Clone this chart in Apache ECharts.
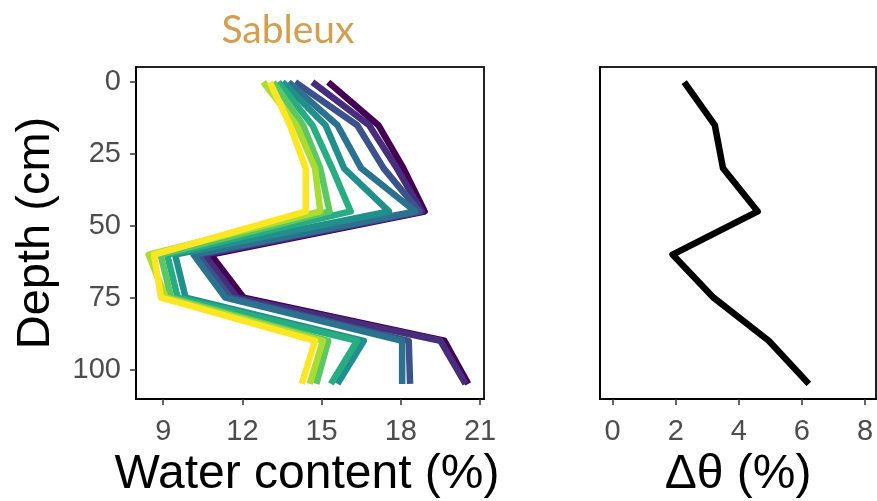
<!DOCTYPE html>
<html><head><meta charset="utf-8">
<script src="https://cdn.jsdelivr.net/npm/echarts@6/dist/echarts.min.js"></script>
<style>html,body{margin:0;padding:0;background:#fff}#c{width:877px;height:501px}</style>
</head><body><div id="c"></div>
<script>
const depths = [0, 15, 30, 45, 60, 75, 90, 105];
const s1 = [15.25, 17.15, 18.1, 18.9, 10.8, 12.05, 19.65, 20.55];
const s2 = [14.65, 16.8, 17.85, 18.8, 10.55, 11.8, 19.5, 20.45];
const s3 = [14.0, 16.35, 17.35, 18.7, 10.3, 11.55, 18.3, 18.35];
const s4 = [13.75, 15.6, 16.5, 18.55, 10.15, 11.35, 18.05, 18.05];
const s5 = [13.52, 15.15, 15.85, 17.55, 9.45, 9.85, 16.6, 15.6];
const s6 = [13.36, 14.65, 15.4, 16.1, 9.15, 9.55, 16.35, 15.35];
const s7 = [13.17, 14.3, 14.95, 15.3, 8.9, 9.3, 15.25, 14.8];
const s8 = [12.79, 14.05, 14.75, 14.95, 8.45, 9.1, 15.05, 14.55];
const s9 = [13.04, 13.8, 14.4, 14.4, 8.65, 8.92, 14.75, 14.25];
const seriesColors = ['#440154', '#472D7B', '#3B528B', '#2C728E', '#21908C', '#27AD81', '#5DC863', '#AADC32', '#FDE725'];
const deltaTheta = [2.27, 3.24, 3.5, 4.6, 1.9, 3.2, 4.95, 6.22];
const waterTicks = [9, 12, 15, 18, 21];
const depthTicks = [0, 25, 50, 75, 100];
const deltaTicks = [0, 2, 4, 6, 8];

const profiles = [s1, s2, s3, s4, s5, s6, s7, s8, s9];
const chart = echarts.init(document.getElementById('c'), null, {renderer: 'canvas'});

const labelStyle = {color: '#4D4D4D', fontSize: 29, fontFamily: 'Liberation Sans, Arial, sans-serif'};
function xAxisCfg(idx, min, max, ticks) {
  return {
    type: 'value', gridIndex: idx, min: min, max: max,
    splitLine: {show: false},
    axisLine: {show: true, onZero: false, lineStyle: {color: '#000', width: 2}},
    axisTick: {show: true, length: 6, customValues: ticks, lineStyle: {color: '#333', width: 1.5}},
    axisLabel: Object.assign({show: true, margin: 18, customValues: ticks}, labelStyle)
  };
}
function yAxisCfg(idx, showLabels) {
  return {
    type: 'value', gridIndex: idx, inverse: true, min: -5.25, max: 110.25,
    splitLine: {show: false},
    axisLine: {show: true, onZero: false, lineStyle: {color: '#000', width: 2}},
    axisTick: {show: showLabels, length: 6, customValues: depthTicks, lineStyle: {color: '#333', width: 1.5}},
    axisLabel: Object.assign({show: showLabels, margin: 15, customValues: depthTicks}, labelStyle)
  };
}

const series = profiles.map((p, i) => ({
  type: 'line', xAxisIndex: 0, yAxisIndex: 0,
  data: p.map((v, k) => [v, depths[k]]),
  showSymbol: false, symbol: 'none', silent: true, animation: false,
  lineStyle: {color: seriesColors[i], width: 6.5, join: 'round', cap: 'butt'}
}));
series.push({
  type: 'line', xAxisIndex: 1, yAxisIndex: 1,
  data: deltaTheta.map((v, k) => [v, depths[k]]),
  showSymbol: false, symbol: 'none', silent: true, animation: false,
  lineStyle: {color: '#000', width: 6.5, join: 'round', cap: 'butt'}
});

chart.setOption({
  animation: false,
  backgroundColor: '#fff',
  grid: [
    {left: 136, top: 67, width: 348, height: 332, show: true, borderColor: '#222', borderWidth: 2, backgroundColor: 'transparent'},
    {left: 600, top: 67, width: 276, height: 332, show: true, borderColor: '#222', borderWidth: 2, backgroundColor: 'transparent'}
  ],
  xAxis: [xAxisCfg(0, 7.97, 21.15, waterTicks), xAxisCfg(1, -0.4, 8.35, deltaTicks)],
  yAxis: [yAxisCfg(0, true), yAxisCfg(1, false)],
  series: series,
  graphic: [
    {type: 'text', x: 288, y: 30, style: {text: 'Sableux', x: 0, y: 0, align: 'center', verticalAlign: 'middle', fill: '#D39E4D', font: '39px Lato, sans-serif'}},
    {type: 'text', x: 307, y: 475, style: {text: 'Water content (%)', x: 0, y: 0, align: 'center', verticalAlign: 'middle', fill: '#000', font: '48px "Liberation Sans", Arial, sans-serif'}},
    {type: 'text', x: 738, y: 475, style: {text: 'Δθ (%)', x: 0, y: 0, align: 'center', verticalAlign: 'middle', fill: '#000', font: '48px "Liberation Sans", Arial, sans-serif'}},
    {type: 'text', rotation: Math.PI / 2, x: 36, y: 233, style: {text: 'Depth (cm)', x: 0, y: 0, align: 'center', verticalAlign: 'middle', fill: '#000', font: '47px "Liberation Sans", Arial, sans-serif'}}
  ]
});
</script></body></html>
